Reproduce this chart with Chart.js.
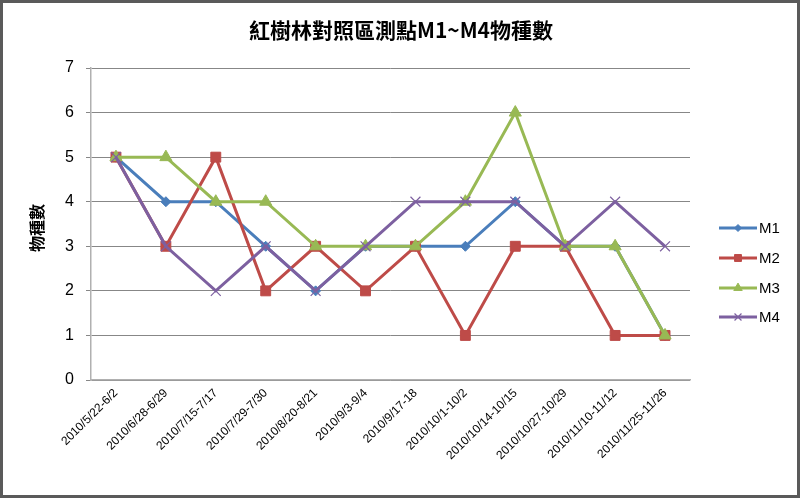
<!DOCTYPE html>
<html lang="zh-Hant">
<head>
<meta charset="UTF-8">
<title>紅樹林對照區測點M1~M4物種數</title>
<script src="https://cdn.jsdelivr.net/npm/chart.js"></script>
<style>
    html, body { margin: 0; padding: 0; background: #ffffff; }
    #wrap { width: 800px; height: 498px; position: relative; }
</style>
</head>
<body>
<div id="wrap"><canvas id="speciesChart" width="800" height="498"></canvas></div>
<script>
    // data
    const periods = ['2010/5/22-6/2', '2010/6/28-6/29', '2010/7/15-7/17', '2010/7/29-7/30',
        '2010/8/20-8/21', '2010/9/3-9/4', '2010/9/17-18', '2010/10/1-10/2',
        '2010/10/14-10/15', '2010/10/27-10/29', '2010/11/10-11/12', '2010/11/25-11/26'];
    const m1 = [5, 4, 4, 3, 2, 3, 3, 3, 4, 3, 3, 1];
    const m2 = [5, 3, 5, 2, 3, 2, 3, 1, 3, 3, 1, 1];
    const m3 = [5, 5, 4, 4, 3, 3, 3, 4, 6, 3, 3, 1];
    const m4 = [5, 3, 2, 3, 2, 3, 4, 4, 4, 3, 4, 3];
    const yTicks = [0, 1, 2, 3, 4, 5, 6, 7];

    const titleText = '紅樹林對照區測點M1~M4物種數';
    const yTitle = '物種數';
    const cjkFont = '"Noto Sans CJK TC", "Noto Sans CJK SC", sans-serif';
    const latinFont = '"Liberation Sans", Arial, sans-serif';

    function series(label, data, color, style, radius, order) {
        return {
            label: label,
            data: data,
            borderColor: color,
            backgroundColor: color,
            borderWidth: 3,
            pointStyle: style,
            pointRadius: radius,
            pointBorderWidth: style === 'crossRot' ? 1.2 : 1,
            pointHoverRadius: radius,
            tension: 0,
            order: order
        };
    }

    const datasets = [
        series('M1', m1, '#4a7ebb', 'rectRot', 5, 3),
        series('M2', m2, '#be4b48', 'rect', 7, 2),
        series('M3', m3, '#98b954', 'triangle', 7, 1),
        series('M4', m4, '#7d60a0', 'crossRot', 7, 0)
    ];

    // title, rotated y title, legend at right, outer frame
    const decorations = {
        id: 'decorations',
        afterDraw(chart) {
            const ctx = chart.ctx;
            ctx.save();
            ctx.fillStyle = '#000';
            ctx.textAlign = 'center';
            ctx.textBaseline = 'middle';
            ctx.font = 'bold 21px ' + cjkFont;
            ctx.fillText(titleText, 401, 30);

            ctx.translate(37, 228);
            ctx.rotate(-Math.PI / 2);
            ctx.font = 'bold 16px ' + cjkFont;
            ctx.fillText(yTitle, 0, 0);
            ctx.restore();

            const legendY = [228, 258, 288, 317];
            chart.data.datasets.forEach((ds, i) => {
                const y = legendY[i];
                ctx.save();
                ctx.strokeStyle = ds.borderColor;
                ctx.lineWidth = 3;
                ctx.beginPath();
                ctx.moveTo(719, y);
                ctx.lineTo(757, y);
                ctx.stroke();
                ctx.fillStyle = ds.backgroundColor;
                ctx.lineWidth = ds.pointBorderWidth;
                Chart.helpers.drawPoint(ctx, {
                    pointStyle: ds.pointStyle,
                    radius: ds.pointRadius * 0.7,
                    rotation: 0,
                    borderWidth: ds.pointBorderWidth
                }, 738, y);
                ctx.fillStyle = '#000';
                ctx.font = '15px ' + latinFont;
                ctx.textAlign = 'left';
                ctx.textBaseline = 'middle';
                ctx.fillText(ds.label, 759, y + 1);
                ctx.restore();
            });

            ctx.save();
            ctx.strokeStyle = '#5a5a5a';
            ctx.lineWidth = 3;
            ctx.strokeRect(1.5, 1.5, 797, 495);
            ctx.restore();
        }
    };

    new Chart(document.getElementById('speciesChart').getContext('2d'), {
        type: 'line',
        data: { labels: periods, datasets: datasets },
        options: {
            responsive: false,
            animation: false,
            devicePixelRatio: 1,
            layout: { padding: { top: 68, right: 110, left: 0, bottom: 0 } },
            plugins: {
                legend: { display: false },
                title: { display: false },
                tooltip: { enabled: false }
            },
            scales: {
                x: {
                    offset: true,
                    afterFit(scale) { scale.height = 118; },
                    grid: { display: false, drawTicks: false },
                    border: { display: true, color: '#b0b0b0', width: 1.5 },
                    ticks: {
                        minRotation: 45,
                        maxRotation: 45,
                        autoSkip: false,
                        padding: 6,
                        color: '#000',
                        font: { family: latinFont, size: 12 }
                    }
                },
                y: {
                    min: 0,
                    max: 7,
                    afterFit(scale) { scale.width = 91; },
                    afterBuildTicks(scale) { scale.ticks = yTicks.map(v => ({ value: v })); },
                    grid: { color: '#878787', lineWidth: 1, tickLength: 5 },
                    border: { display: true, color: '#b0b0b0', width: 1.5 },
                    ticks: {
                        padding: 12,
                        color: '#000',
                        font: { family: latinFont, size: 16 }
                    }
                }
            }
        },
        plugins: [decorations]
    });
</script>
</body>
</html>
